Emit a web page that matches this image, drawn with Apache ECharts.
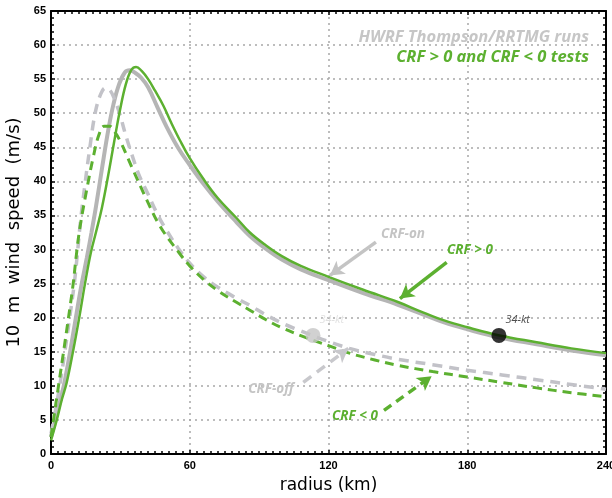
<!DOCTYPE html>
<html>
<head>
<meta charset="utf-8">
<script src="https://cdn.jsdelivr.net/npm/echarts@6/dist/echarts.min.js"></script>
<style>
  html, body { margin: 0; padding: 0; background: #fff; }
  #chart { width: 612px; height: 498px; }
</style>
</head>
<body>
<div id="chart"></div>
<script>
// Radial profiles of 10 m wind speed (m/s) against radius (km)
const crfOn = [ // HWRF Thompson/RRTMG, cloud-radiative forcing on
  [0, 2.5], [3, 6.5], [5.5, 10], [8, 14.5], [10.5, 19.5], [13, 24.5], [15.5, 28.8],
  [17.5, 32.5], [19.5, 36.4], [22, 41.8], [24.8, 47.6], [27, 51.3], [29.5, 54.3],
  [32, 56.0], [34, 56.3], [36.5, 55.9], [39, 55.2], [42, 53.8], [46, 50.9], [50, 48.0],
  [55, 44.9], [60, 42.4], [66, 39.6], [72, 37.1], [80, 34.1], [86, 32.0], [93, 30.1],
  [100, 28.5], [108, 27.1], [120, 25.5], [135, 23.6], [150, 21.9], [160, 20.6],
  [170, 19.3], [180, 18.3], [194, 17.1], [210, 16.1], [225, 15.2], [240, 14.5]
];
const crfOff = [ // cloud-radiative forcing off
  [0, 3], [2, 6.5], [4, 10.5], [6, 15], [8, 19.8], [10, 24.8], [11.3, 29], [12.8, 34.3],
  [14.7, 39.6], [16.9, 45.2], [19.2, 50.2], [21.5, 52.8], [23.5, 53.7], [25.2, 53.5],
  [27.2, 52.3], [29.8, 49.8], [32.2, 46.9], [35, 43.9], [38, 41], [42, 38.1], [46, 35.2],
  [50, 32.8], [55, 30.2], [60, 28], [66, 26], [72, 24.5], [80, 22.9], [86, 21.8],
  [93, 20.4], [100, 19.2], [107, 18.2], [113, 17.4], [120, 16.5], [129, 15.5],
  [140, 14.6], [150, 13.9], [165, 13.1], [180, 12.3], [195, 11.6], [210, 10.9],
  [225, 10.2], [240, 9.5]
];
const crfPos = [ // CRF > 0 test
  [0, 2.0], [2.5, 5], [4.7, 8], [6.8, 10.5], [9.6, 15.2], [12.2, 20], [14.7, 25],
  [17.2, 29.5], [19.5, 32.6], [22, 36.1], [24.8, 41.0], [27.2, 45.6], [29.8, 50.4],
  [32.4, 54.3], [34.8, 56.4], [36.8, 56.8], [39.2, 56.2], [42, 55.0], [45, 53.3],
  [48.6, 51.1], [52, 48.6], [55.8, 46.0], [60, 43.4], [66, 40.3], [72, 37.6], [80, 34.7],
  [86, 32.5], [93, 30.6], [100, 29.0], [108, 27.6], [120, 26.0], [135, 24.1],
  [150, 22.3], [160, 20.9], [170, 19.6], [180, 18.6], [194, 17.4], [210, 16.4],
  [225, 15.5], [240, 14.8]
];
const crfNeg = [ // CRF < 0 test
  [0, 2.5], [1.5, 6], [3.2, 9.9], [5, 14], [6.8, 18.2], [8.2, 21.5], [9.6, 25],
  [11, 29.3], [12.5, 33.2], [15.4, 38.7], [18.3, 43.6], [20.8, 46.9], [23, 48.1],
  [25.3, 48.1], [27.5, 47.3], [29.8, 46.0], [32.5, 44], [35.6, 41.6], [41.4, 37.3],
  [47, 33.5], [55, 29.7], [60, 27.6], [66, 25.6], [72, 24.0], [80, 22.3], [86, 21.1],
  [93, 19.7], [100, 18.5], [110, 17.1], [120, 15.9], [129, 14.8], [140, 13.8],
  [150, 13.0], [165, 12.1], [180, 11.3], [195, 10.5], [210, 9.7], [225, 9.0], [240, 8.4]
];
// Radius of 34-kt winds
const gale34Off = [[113.3, 17.4]];
const gale34Pos = [[193.7, 17.4]];
const xTicks = [0, 60, 120, 180, 240];
const yTicks = [0, 5, 10, 15, 20, 25, 30, 35, 40, 45, 50, 55, 60, 65];

// Annotation arrows, in data units (radius, speed)
const arrowOn  = [[140.5, 31.1], [120.6, 26.2]];
const arrowPos = [[171.1, 28.1], [150.9, 22.8]];
const arrowOff = [[109.1, 10.5], [128.6, 15.5]];
const arrowNeg = [[144.0, 6.4], [164.6, 11.4]];

const GREEN = '#5cb030';
const GRAY_SOLID = '#b5b5b5';
const GRAY_DASH = '#c2c2c8';
const TICK_FONT = { color: '#000', fontWeight: 'bold', fontSize: 11, fontFamily: 'Liberation Sans Narrow, Liberation Sans, Arial' };
const NOTE_FONT = 'italic bold 13.5px "Open Sans"';
const HEAD_FONT = 'italic bold 16.5px "Open Sans"';

function frameAxis(base) {
  return Object.assign({
    type: 'value',
    axisLine: { show: true, onZero: false, lineStyle: { color: '#000', width: 2 } },
    axisTick: { show: true, inside: true, length: 4, lineStyle: { color: '#000', width: 1.5 } },
    minorTick: { show: true, length: 3, lineStyle: { color: '#000', width: 1.5 } },
    splitLine: { show: false }
  }, base);
}

function arrow(points, color, type) {
  return {
    silent: true,
    symbol: ['none', 'arrow'],
    symbolSize: [12, 14],
    label: { show: false },
    lineStyle: { color: color, width: 3.5, type: type },
    data: [[{ coord: points[0] }, { coord: points[1] }]]
  };
}

const chart = echarts.init(document.getElementById('chart'), null, { renderer: 'canvas' });
chart.setOption({
  animation: false,
  backgroundColor: '#fff',
  grid: { left: 51, right: 6, top: 11, bottom: 44, containLabel: false, outerBoundsMode: 'none' },
  xAxis: [
    frameAxis({
      min: 0, max: 240, interval: 60, position: 'bottom',
      minorTick: { show: true, splitNumber: 20, length: 3, lineStyle: { color: '#000', width: 1.5 } },
      axisLabel: Object.assign({ margin: 6, formatter: v => xTicks.includes(v) ? String(v) : '' }, TICK_FONT),
      splitLine: { show: true, lineStyle: { color: '#a8a8a8', width: 1.5, type: [2, 4] } },
      name: 'radius (km)', nameLocation: 'middle', nameGap: 23,
      nameTextStyle: { fontFamily: 'DejaVu Sans', fontSize: 17, color: '#000' }
    }),
    frameAxis({
      min: 0, max: 240, interval: 60, position: 'top',
      minorTick: { show: true, splitNumber: 20, length: 3, lineStyle: { color: '#000', width: 1.5 } },
      axisLabel: { show: false }
    })
  ],
  yAxis: [
    frameAxis({
      min: 0, max: 65, interval: 5, position: 'left',
      axisLabel: Object.assign({ margin: 5, formatter: v => yTicks.includes(v) ? String(v) : '' }, TICK_FONT),
      splitLine: { show: true, lineStyle: { color: '#a8a8a8', width: 1.5, type: [2, 4] } },
      name: '10  m  wind  speed  (m/s)', nameLocation: 'middle', nameGap: 22, nameRotate: 90,
      nameTextStyle: { fontFamily: 'DejaVu Sans', fontSize: 18, color: '#000' }
    }),
    frameAxis({
      min: 0, max: 65, interval: 5, position: 'right',
      axisLabel: { show: false }
    })
  ],
  series: [
    {
      name: 'CRF-on', type: 'line', data: crfOn, smooth: 0.4, showSymbol: false,
      lineStyle: { color: GRAY_SOLID, width: 4 }, z: 2,
      markLine: arrow(arrowOn, '#c4c4c4', 'solid')
    },
    {
      name: 'CRF-off', type: 'line', data: crfOff, smooth: 0.4, showSymbol: false,
      lineStyle: { color: GRAY_DASH, width: 3.5, type: [10, 7] }, z: 2,
      markLine: arrow(arrowOff, '#c8c8cc', [10, 7])
    },
    {
      name: 'CRF > 0', type: 'line', data: crfPos, smooth: 0.4, showSymbol: false,
      lineStyle: { color: GREEN, width: 2.5 }, z: 3,
      markLine: arrow(arrowPos, GREEN, 'solid')
    },
    {
      name: 'CRF < 0', type: 'line', data: crfNeg, smooth: 0.4, showSymbol: false,
      lineStyle: { color: GREEN, width: 3, type: [9, 6] }, z: 3,
      markLine: arrow(arrowNeg, GREEN, [9, 6])
    },
    {
      name: '34-kt off', type: 'scatter', data: gale34Off, symbolSize: 15, z: 4,
      itemStyle: { color: '#c6c6c6' },
      label: { show: true, formatter: '34-kt', position: [14, -14], color: '#dadada',
               fontSize: 11, fontStyle: 'italic', fontFamily: 'Open Sans' }
    },
    {
      name: '34-kt pos', type: 'scatter', data: gale34Pos, symbolSize: 15, z: 4,
      itemStyle: { color: '#000' },
      label: { show: true, formatter: '34-kt', position: [14, -14], color: '#222',
               fontSize: 11, fontStyle: 'italic', fontFamily: 'Open Sans' }
    }
  ],
  graphic: [
    { type: 'text', right: 23, top: 29, z: 10, style: {
      text: 'HWRF Thompson/RRTMG runs', fill: '#c6c6c6', font: HEAD_FONT } },
    { type: 'text', right: 23, top: 49, z: 10, style: {
      text: 'CRF > 0 and CRF < 0 tests', fill: GREEN, font: HEAD_FONT } },
    { type: 'text', x: 403, y: 234, z: 10, style: {
      text: 'CRF-on', fill: '#c4c4c4', align: 'center', verticalAlign: 'middle', font: NOTE_FONT } },
    { type: 'text', x: 470, y: 250, z: 10, style: {
      text: 'CRF > 0', fill: GREEN, align: 'center', verticalAlign: 'middle', font: NOTE_FONT } },
    { type: 'text', x: 271, y: 389, z: 10, style: {
      text: 'CRF-off', fill: '#c4c4c4', align: 'center', verticalAlign: 'middle', font: NOTE_FONT } },
    { type: 'text', x: 355, y: 416, z: 10, style: {
      text: 'CRF < 0', fill: GREEN, align: 'center', verticalAlign: 'middle', font: NOTE_FONT } }
  ]
});
</script>
</body>
</html>
